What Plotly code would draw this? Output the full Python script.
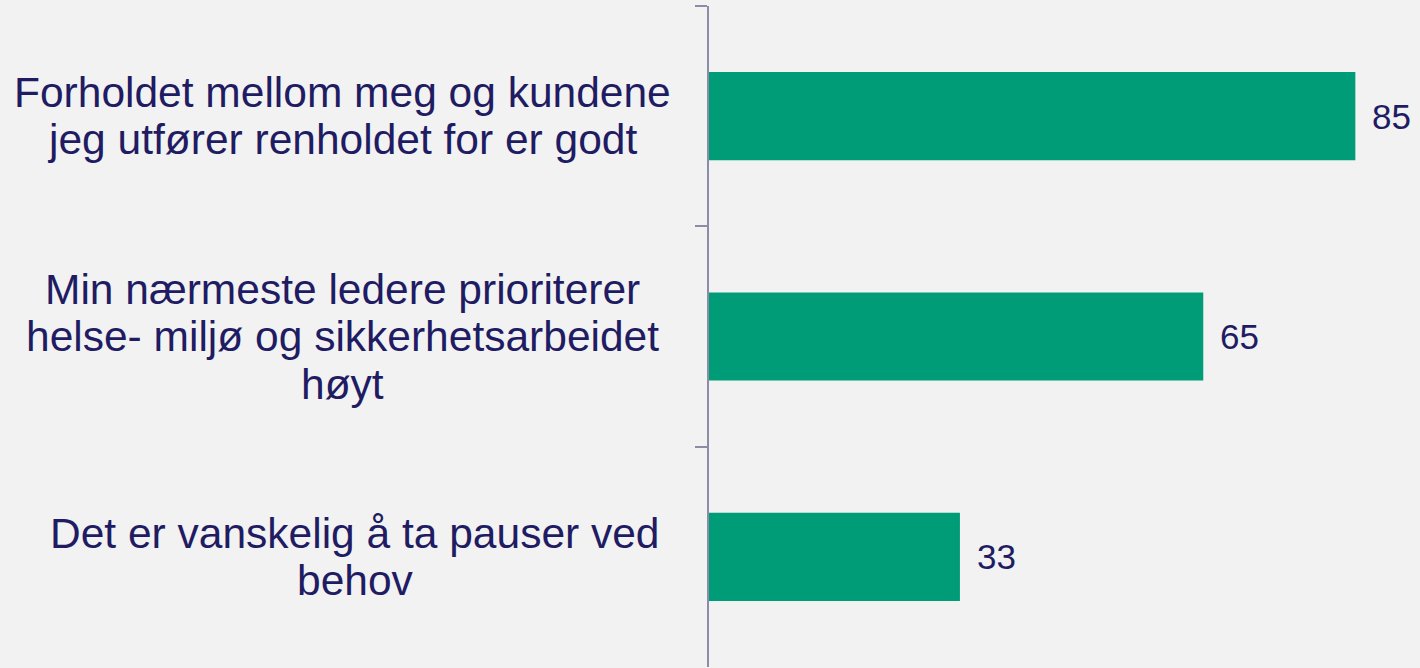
import plotly.graph_objects as go

categories = [
    "Forholdet mellom meg og kundene<br>jeg utfører renholdet for er godt",
    "Min nærmeste ledere prioriterer<br>helse- miljø og sikkerhetsarbeidet<br>høyt",
    "Det er vanskelig å ta pauser ved<br>behov",
]
values = [85, 65, 33]

BG = "#F2F2F2"
GREEN = "#009B77"
NAVY = "#1F1C63"
AXIS = "#8C8CA6"
FONT = "Liberation Sans, Arial, sans-serif"

W, H = 1420, 668
ML, MR, MT, MB = 709, 0, 6, 1
plot_w = W - ML - MR
px_per_unit = 7.604
xmax = plot_w / px_per_unit

fig = go.Figure()
fig.add_trace(go.Bar(
    x=values, y=categories, orientation="h",
    marker=dict(color=GREEN, line=dict(width=0)),
    hoverinfo="skip",
))

annotations = []
# value labels
for c, v in zip(categories, values):
    annotations.append(dict(
        x=v, y=c, xref="x", yref="y", text=str(v), showarrow=False,
        xanchor="left", yanchor="middle", xshift=15,
        font=dict(family=FONT, size=35, color=NAVY),
    ))
# category labels (one annotation per line for tight line spacing)
label_centers_px = [342, 342, 355]
line_gap = 47.5
for c, cx in zip(categories, label_centers_px):
    lines = c.split("<br>")
    n = len(lines)
    for i, ln in enumerate(lines):
        annotations.append(dict(
            x=(cx - ML) / plot_w, y=c, xref="paper", yref="y",
            text=ln, showarrow=False, xanchor="center", yanchor="middle",
            yshift=-(i - (n - 1) / 2) * line_gap,
            font=dict(family=FONT, size=42.5, color=NAVY),
        ))

fig.update_layout(
    width=W, height=H,
    margin=dict(l=ML, r=MR, t=MT, b=MB, pad=0),
    paper_bgcolor=BG, plot_bgcolor=BG,
    bargap=0.6, showlegend=False,
    annotations=annotations,
    xaxis=dict(visible=False, range=[0, xmax], fixedrange=True),
    yaxis=dict(
        autorange="reversed", showline=True, linecolor=AXIS, linewidth=1.5,
        ticks="outside", ticklen=12, tickcolor=AXIS, tickwidth=1.5,
        tickson="boundaries", showticklabels=False, showgrid=False,
        zeroline=False, fixedrange=True,
    ),
)

fig.write_html(
    "out.html",
    config={"displayModeBar": False},
    post_script="document.body.style.margin='0';document.body.style.background='%s';" % BG,
)
